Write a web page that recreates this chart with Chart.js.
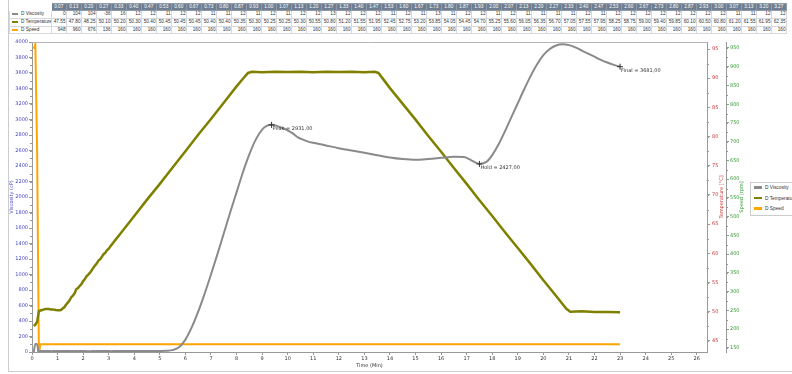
<!DOCTYPE html>
<html lang="en">
<head>
<meta charset="UTF-8">
<title>Viscosity profile</title>
<style>
  body { margin: 0; background: #fff; width: 792px; height: 374px; overflow: hidden; position: relative; font-family: "Liberation Sans", sans-serif; }
  .frame { position: absolute; left: 8px; top: 0; width: 800px; height: 371px; border-left: 1px solid #c9cdd2; border-bottom: 1px solid #c9cdd2; }
  #grid { position: absolute; left: 9px; top: 3px; border-collapse: collapse; table-layout: fixed; font-size: 4.7px; color: #333; }
  #grid td, #grid th { border: 1px solid #d5d8dc; padding: 0 0.5px 0 0; height: 6.8px; line-height: 6px; text-align: right; white-space: nowrap; overflow: hidden; }
  #grid th { background: #6f7e91; color: #fff; font-weight: normal; text-align: center; border-color: #8e9aa8; height: 5.8px; }
  #grid th.blank { background: #fff; border-color: #fff; }
  #grid td.name { text-align: left; padding-left: 2px; }
  .sw { display: inline-block; width: 6px; height: 2px; vertical-align: middle; margin-right: 3px; }
  .box { position: absolute; left: 8px; top: 35px; width: 784px; height: 337px; }
  #legend { position: absolute; left: 750px; top: 182px; width: 60px; height: 32px; border: 1px solid #ccc; background: #fff; font-size: 4.8px; color: #333; }
  #legend div { height: 10.5px; line-height: 10.5px; padding-left: 3px; white-space: nowrap; }
  #legend .sw { width: 8px; height: 2.5px; }
</style>
</head>
<body>
<div class="frame"></div>
<table id="grid"></table>
<div class="box"><canvas id="visco" width="784" height="337"></canvas></div>
<div id="legend"></div>

<script src="https://cdn.jsdelivr.net/npm/chart.js"></script>
<script>
  const seriesNames = ['D Viscosity', 'D Temperature', 'D Speed'];
  const seriesColors = ['#8a8a8a', '#808000', '#ffa500'];

  // readings shown in the table (min)
  const tableTimes = [0.07, 0.13, 0.20, 0.27, 0.33, 0.40, 0.47, 0.53, 0.60, 0.67, 0.73, 0.80, 0.87, 0.93, 1.00, 1.07, 1.13, 1.20, 1.27, 1.33, 1.40, 1.47, 1.53,
    1.60, 1.67, 1.73, 1.80, 1.87, 1.93, 2.00, 2.07, 2.13, 2.20, 2.27, 2.33, 2.40, 2.47, 2.53, 2.60, 2.67, 2.73, 2.80, 2.87, 2.93, 3.00, 3.07, 3.13, 3.20, 3.27];
  const tableViscosity = [0, 104, 104, -36, 16, 12, 12, 11, 12, 12, 11, 11, 12, 11, 12, 11, 12, 12, 13, 12, 12, 12, 11,
    12, 11, 13, 11, 12, 12, 11, 12, 11, 11, 11, 11, 12, 11, 12, 12, 12, 12, 12, 12, 12, 12, 11, 11, 12, 12];
  const tableTemperature = [47.55, 47.80, 48.25, 50.10, 50.20, 50.30, 50.40, 50.45, 50.45, 50.45, 50.40, 50.40, 50.35, 50.30, 50.25, 50.25, 50.30, 50.55, 50.80, 51.20, 51.55, 51.95, 52.45,
    52.75, 53.20, 53.85, 54.05, 54.45, 54.70, 55.25, 55.60, 56.05, 56.35, 56.70, 57.05, 57.55, 57.95, 58.25, 58.75, 59.00, 59.40, 59.85, 60.10, 60.50, 60.80, 61.20, 61.55, 61.95, 62.35];
  const tableSpeed = [948, 960, 676, 136, 160, 160, 160, 160, 160, 160, 160, 160, 160, 160, 160, 160, 160, 160, 160, 160, 160, 160, 160,
    160, 160, 160, 160, 160, 160, 160, 160, 160, 160, 160, 160, 160, 160, 160, 160, 160, 160, 160, 160, 160, 160, 160, 160, 160, 160];

  // rest of the run
  const viscosityTimes = [3.5, 4, 4.5, 5, 5.25, 5.5, 5.75, 6, 6.25, 6.5, 6.75, 7, 7.25, 7.5, 7.75, 8, 8.25, 8.5, 8.75, 9, 9.2, 9.37, 9.6, 9.8, 10, 10.2, 10.4, 10.6, 10.8,
    11, 11.5, 12, 12.5, 13, 13.5, 14, 14.5, 15, 15.5, 16, 16.5, 16.9, 17.2, 17.5, 17.8, 18, 18.25, 18.5, 18.75, 19, 19.25, 19.5, 19.75,
    20, 20.25, 20.5, 20.75, 21, 21.25, 21.5, 21.75, 22, 22.25, 22.5, 22.75, 23];
  const viscosityValues = [12, 12, 13, 14, 16, 24, 60, 160, 320, 520, 750, 1000, 1260, 1530, 1800, 2060, 2320, 2550, 2740, 2870, 2920, 2931, 2915, 2890, 2860, 2820, 2770, 2740, 2715,
    2700, 2665, 2630, 2600, 2570, 2540, 2510, 2490, 2480, 2490, 2505, 2520, 2515, 2470, 2427, 2460, 2540, 2680, 2850, 3030, 3210, 3390, 3560, 3710,
    3830, 3910, 3955, 3970, 3960, 3930, 3890, 3850, 3810, 3770, 3735, 3705, 3681];

  const temperatureTimes = [3.5, 4, 4.5, 5, 5.5, 6, 6.5, 7, 7.5, 8, 8.25, 8.45, 8.6, 9, 9.5, 10, 10.5, 11, 11.5, 12, 12.5, 13, 13.4, 13.55,
    14, 14.5, 15, 15.5, 16, 16.5, 17, 17.5, 18, 18.5, 19, 19.5, 20, 20.5, 20.9, 21.05, 21.5, 22, 22.5, 23];
  const temperatureValues = [63.6, 66.4, 69.2, 71.9, 74.7, 77.5, 80.3, 83.0, 85.8, 88.6, 89.9, 90.9, 91.1, 91.0, 91.1, 91.05, 91.1, 91.0, 91.1, 91.05, 91.1, 91.0, 91.1, 90.9,
    88.3, 85.6, 82.9, 80.1, 77.4, 74.6, 71.9, 69.1, 66.4, 63.6, 60.9, 58.2, 55.4, 52.7, 50.5, 50.0, 50.1, 49.95, 49.95, 49.9];

  const speedTimes = [3.5, 10, 17, 23];
  const speedValues = [160, 160, 160, 160];

  const markerNames = ['Peak', 'Hold', 'Final'];
  const markerTimes = [9.37, 17.5, 23];
  const markerValues = [2931, 2427, 3681];

  const pairs = (ts, vs) => ts.map((t, i) => ({ x: t, y: vs[i] }));

  // table
  const grid = document.getElementById('grid');
  let html = '<colgroup><col style="width:42px">' + tableTimes.map(() => '<col style="width:15px">').join('') + '</colgroup>';
  html += '<tr><th class="blank"></th>' + tableTimes.map(t => '<th>' + t.toFixed(2) + '</th>').join('') + '</tr>';
  const rows = [tableViscosity.map(v => v), tableTemperature.map(v => v.toFixed(2)), tableSpeed.map(v => v)];
  rows.forEach((r, i) => {
    html += '<tr><td class="name"><span class="sw" style="background:' + seriesColors[i] + '"></span>' + seriesNames[i] + '</td>' +
      r.map(v => '<td>' + v + '</td>').join('') + '</tr>';
  });
  grid.innerHTML = html;
  grid.style.width = (42 + 15 * tableTimes.length) + 'px';

  document.getElementById('legend').innerHTML = seriesNames.map((n, i) =>
    '<div><span class="sw" style="background:' + seriesColors[i] + '"></span>' + n + '</div>').join('');

  const small = { family: '"DejaVu Sans", sans-serif', size: 5 };
  const plain = v => String(v);

  const rightTitles = [
    { axis: 'y2', text: 'Temperature [°C]', color: '#cc3333', inset: 4.5 },
    { axis: 'y3', text: 'Speed [rpm]', color: '#339933', inset: 8 }
  ];

  const extras = {
    id: 'extras',
    afterDatasetsDraw(chart) {
      const c = chart.ctx;
      const a = chart.chartArea;
      c.save();
      c.strokeStyle = '#b5b5b5';
      c.lineWidth = 1;
      c.beginPath();
      c.moveTo(a.left, a.top + 0.5);
      c.lineTo(a.right, a.top + 0.5);
      c.stroke();

      // minor ticks between labelled ones
      [['y', 100, -1], ['y2', 2.5, 1], ['y3', 25, 1]].forEach(([id, step, dir]) => {
        const s = chart.scales[id];
        const x0 = dir < 0 ? a.left : s.left;
        c.strokeStyle = '#999';
        for (let v = Math.ceil(s.min / step) * step; v <= s.max; v += step) {
          const y = Math.round(s.getPixelForValue(v)) + 0.5;
          c.beginPath();
          c.moveTo(x0, y);
          c.lineTo(x0 + dir * 2, y);
          c.stroke();
        }
      });

      // peak / hold / final marks
      const sx = chart.scales.x, sy = chart.scales.y;
      c.font = '5px "DejaVu Sans", sans-serif';
      c.fillStyle = '#333';
      c.strokeStyle = '#333';
      c.textBaseline = 'middle';
      markerNames.forEach((n, i) => {
        const px = sx.getPixelForValue(markerTimes[i]);
        const py = sy.getPixelForValue(markerValues[i]);
        c.beginPath();
        c.moveTo(px - 3, py); c.lineTo(px + 3, py);
        c.moveTo(px, py - 3); c.lineTo(px, py + 3);
        c.stroke();
        c.fillText(n + ' = ' + markerValues[i].toFixed(2).replace('.', ','), px + 1, py + 4);
      });

      rightTitles.forEach(t => {
        const s = chart.scales[t.axis];
        c.save();
        c.translate(s.right - t.inset, (a.top + a.bottom) / 2);
        c.rotate(-Math.PI / 2);
        c.fillStyle = t.color;
        c.textAlign = 'center';
        c.fillText(t.text, 0, 0);
        c.restore();
      });
      c.restore();
    }
  };

  const axisGrid = { display: true, drawOnChartArea: false, drawTicks: true, tickLength: 3, color: '#999' };

  new Chart(document.getElementById('visco'), {
    type: 'line',
    data: {
      datasets: [
        { label: seriesNames[0], data: pairs(tableTimes, tableViscosity).concat(pairs(viscosityTimes, viscosityValues)), yAxisID: 'y',
          borderColor: seriesColors[0], borderWidth: 2, pointRadius: 0, cubicInterpolationMode: 'monotone' },
        { label: seriesNames[1], data: pairs(tableTimes, tableTemperature).concat(pairs(temperatureTimes, temperatureValues)), yAxisID: 'y2',
          borderColor: seriesColors[1], borderWidth: 2.5, pointRadius: 0, tension: 0 },
        { label: seriesNames[2], data: pairs(tableTimes, tableSpeed).concat(pairs(speedTimes, speedValues)), yAxisID: 'y3',
          borderColor: seriesColors[2], borderWidth: 2, pointRadius: 0, tension: 0 }
      ]
    },
    options: {
      responsive: false,
      animation: false,
      layout: { padding: { top: 7, right: 42, bottom: 0, left: 0 } },
      plugins: { legend: { display: false }, tooltip: { enabled: false } },
      scales: {
        x: {
          type: 'linear', min: 0, max: 26.4,
          ticks: { stepSize: 1, includeBounds: false, autoSkip: false, maxRotation: 0, font: small, color: '#333', padding: 1, callback: plain },
          title: { display: true, text: 'Time (Min)', font: small, color: '#333', padding: { top: 0, bottom: 3 } },
          grid: axisGrid, border: { display: true, color: '#999' },
          afterFit: s => { s.height = 20; }
        },
        y: {
          position: 'left', min: 0, max: 4000,
          ticks: { stepSize: 200, autoSkip: false, font: small, color: '#4545c4', padding: 1, callback: plain },
          title: { display: true, text: 'Viscosity (cP)', font: small, color: '#4545c4', padding: { top: 1, bottom: 0 } },
          grid: axisGrid, border: { display: true, color: '#999' },
          afterFit: s => { s.width = 24; }
        },
        y2: {
          position: 'right', min: 43.1, max: 96.2,
          ticks: { stepSize: 5, includeBounds: false, autoSkip: false, font: small, color: '#cc3333', padding: 2, callback: plain },
          grid: axisGrid, border: { display: true, color: '#999' },
          afterFit: s => { s.width = 19; }
        },
        y3: {
          position: 'right', min: 139, max: 966,
          ticks: { stepSize: 50, includeBounds: false, autoSkip: false, font: small, color: '#339933', padding: 1, callback: plain },
          grid: axisGrid, border: { display: true, color: '#999' },
          afterFit: s => { s.width = 24; }
        }
      }
    },
    plugins: [extras]
  });
</script>
</body>
</html>
